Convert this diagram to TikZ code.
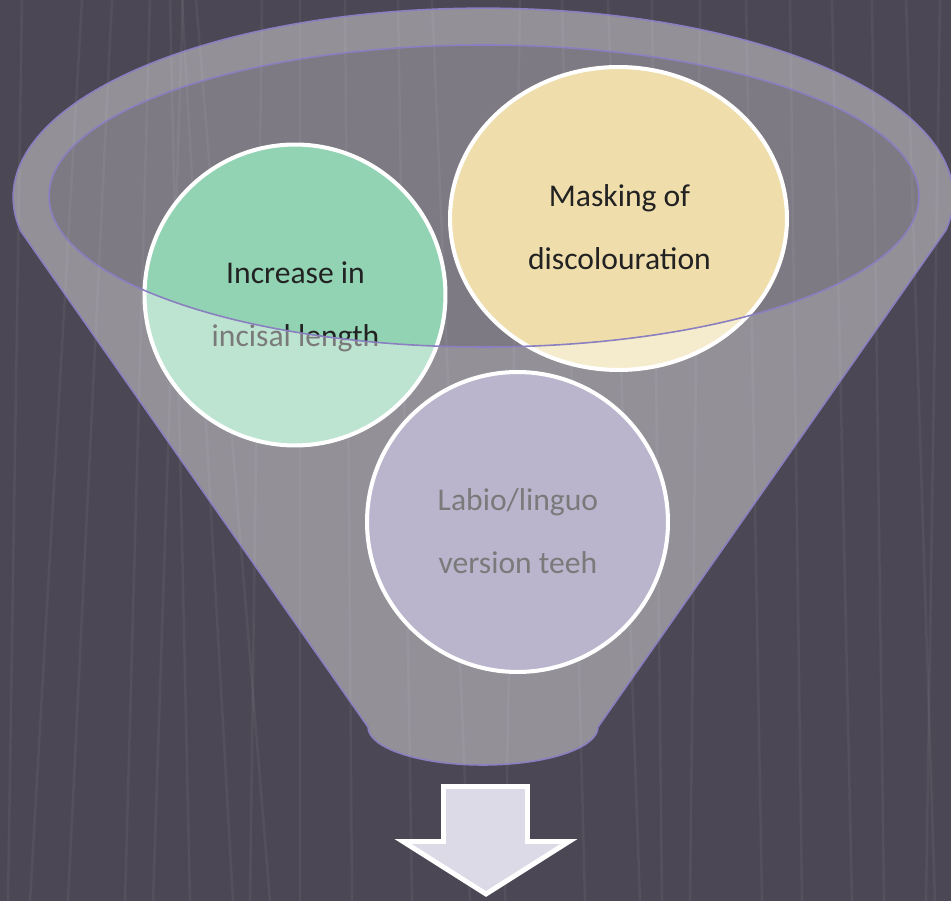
\documentclass[tikz,border=0pt]{standalone}
\usepackage{fontspec}
\setmainfont{Carlito}
\usetikzlibrary{shapes.geometric}
\definecolor{bgcol}{HTML}{4B4754}
\definecolor{rimcol}{HTML}{8A7FC0}
\definecolor{greencol}{HTML}{92D3B3}
\definecolor{yellowcol}{HTML}{EFDEAC}
\definecolor{lilaccol}{HTML}{8C84AA}
\definecolor{arrowcol}{HTML}{DCDAE6}
\definecolor{txtcol}{HTML}{222222}

\begin{document}
\begin{tikzpicture}[line cap=round,line join=round,x=0.02cm,y=-0.02cm,
  bubble/.style={ellipse,draw=white,line width=2.3pt,inner sep=0pt},
  bubbletext/.style={align=center,text=txtcol,font=\fontsize{18}{36}\selectfont},
  streak/.style={white,opacity=0.05,line width=1.4pt},
  rim/.style={draw=rimcol,line width=0.9pt}]
		\useasboundingbox (0,0) rectangle (951,901);
		\fill[bgcol] (0,0) rectangle (951,901);
		% faint streaks of the background
		\foreach \a/\b in {22/8,82/30,112/68,150/125,183/153,170/190,182/233,196/270,262/250,300/300,345/352,398/412,432/470,520/505,562/585,608/640,652/662,700/690,746/762,790/802,832/852,872/884,906/935,940/926}
			\draw[streak] (\a,0) -- (\b,901);
		% opening of the funnel
		\fill[white,opacity=0.28] (484,196) ellipse [x radius=435,y radius=151];
		% bubbles
		\node[bubble,fill=greencol,minimum width=6.02cm,minimum height=6.02cm] (incisal) at (295,295) {};
		\node[bubble,fill=yellowcol,minimum width=6.74cm,minimum height=6.06cm] (masking) at (618.5,218.5) {};
		\node[bubble,fill=lilaccol,minimum width=6.02cm,minimum height=6.0cm] (version) at (517.5,522) {};
		\node[bubbletext] (incisal-txt) at (295.5,302) {\strut Increase in\\\strut incisal length};
		\node[bubbletext] (masking-txt) at (619.5,225) {\strut Masking of\\\strut discolouration};
		\node[bubbletext] (version-txt) at (518,529) {\strut Labio/linguo\\\strut version teeh};
		% front of the funnel
		\fill[white,opacity=0.4,even odd rule] (20,230) -- (368,727) arc[start angle=180,end angle=0,x radius=115,y radius=38]
			-- (946,230) arc[start angle=10,end angle=-190,x radius=470,y radius=189] -- cycle
			(484,196) ellipse [x radius=435,y radius=151];
		\draw[rim] (20,230) -- (368,727) arc[start angle=180,end angle=0,x radius=115,y radius=38]
			-- (946,230) arc[start angle=10,end angle=-190,x radius=470,y radius=189] -- cycle;
		\draw[rim] (484,196) ellipse [x radius=435,y radius=151];
		% arrow below
		\draw[white,line width=2.8pt,fill=arrowcol,line join=miter] (443.5,786.5) -- (527.5,786.5) -- (527.5,841.5)
			-- (569,841.5) -- (486,894) -- (403,841.5) -- (443.5,841.5) -- cycle;
\end{tikzpicture}
\end{document}
